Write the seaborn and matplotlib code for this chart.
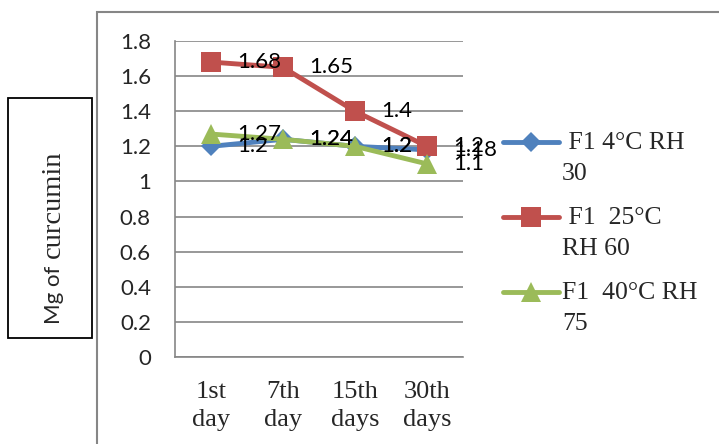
import matplotlib
matplotlib.use("Agg")
import matplotlib.pyplot as plt
import numpy as np
import pandas as pd
import seaborn as sns
from matplotlib.lines import Line2D
from matplotlib.patches import Rectangle

# ---- data -------------------------------------------------------------
days = ["1st\nday", "7th\nday", "15th\ndays", "30th\ndays"]
series_names = ["F1 4°C RH 30", "F1  25°C RH 60", "F1  40°C RH 75"]
legend_labels = [" F1 4°C RH\n30", " F1  25°C\nRH 60", "F1  40°C RH\n75"]
f1_4c = [1.2, 1.24, 1.2, 1.18]
f1_25c = [1.68, 1.65, 1.4, 1.2]
f1_40c = [1.27, 1.24, 1.2, 1.1]
y_ticks = [0, 0.2, 0.4, 0.6, 0.8, 1.0, 1.2, 1.4, 1.6, 1.8]
y_tick_labels = ["0", "0.2", "0.4", "0.6", "0.8", "1", "1.2", "1.4", "1.6", "1.8"]
y_label_parts = ["Mg of", "curcumin"]

# ---- style --------------------------------------------------------------
sns.set_style("white")
SANS = ["Lato", "DejaVu Sans"]
SERIF = ["Liberation Serif", "DejaVu Serif"]
plt.rcParams["font.family"] = SANS
GRID = "#868686"
colors = ["#4F81BD", "#C0504D", "#9BBB59"]
markers = ["D", "s", "^"]
msizes = [10.5, 14.5, 14]

W, H = 719, 444
fx = lambda px: px / W
fy = lambda py: 1 - py / H

fig = plt.figure(figsize=(W / 100, H / 100), dpi=100)

# outer chart frame
fig.patches.append(Rectangle((fx(97), -0.2), 1.5, fy(12) + 0.2,
                             transform=fig.transFigure, fill=False,
                             ec=GRID, lw=1.5, zorder=0))

ax = fig.add_axes([fx(175), fy(357), (463 - 175) / W, (357 - 41) / H])
ax.set_facecolor("none")

x = np.arange(len(days))
df = pd.DataFrame({
    "day": np.tile(x, 3),
    "value": f1_4c + f1_25c + f1_40c,
    "series": np.repeat(series_names, len(days)),
})

for name, c, m, ms in zip(series_names, colors, markers, msizes):
    sub = df[df["series"] == name]
    sns.lineplot(data=sub, x="day", y="value", color=c, marker=m,
                 markersize=ms, markeredgewidth=0, linewidth=3.5,
                 ax=ax, legend=False, zorder=3)

# data labels to the right of each point
for name in series_names:
    sub = df[df["series"] == name]
    for xi, v in zip(sub["day"], sub["value"]):
        ax.annotate(f"{v:g}", (xi, v), xytext=(19, 0),
                    textcoords="offset points", ha="left", va="center",
                    fontsize=16, family=SANS, color="black", zorder=5)

# axes
ax.set_xlim(-0.5, len(days) - 0.5)
ax.set_ylim(0, 1.8)
ax.set_yticks(y_ticks)
ax.set_yticklabels(y_tick_labels, fontsize=16, family=SANS)
ax.set_xticks(x)
ax.set_xticklabels(days, fontsize=19, family=SERIF, linespacing=1.35)
ax.set_xticks(np.arange(-0.5, len(days)), minor=True)
ax.tick_params(axis="x", which="major", length=0, pad=17)
ax.tick_params(axis="x", which="minor", length=5.2, width=1.2, color=GRID,
               direction="out")
ax.tick_params(axis="y", length=5.8, width=1.2, color=GRID, direction="out",
               pad=11.5)
ax.grid(axis="y", color=GRID, lw=1.2)
ax.grid(axis="x", visible=False)
for s in ["top", "right"]:
    ax.spines[s].set_visible(False)
for s in ["left", "bottom"]:
    ax.spines[s].set_color(GRID)
    ax.spines[s].set_linewidth(1.2)
ax.set_xlabel("")
ax.set_ylabel("")

# y-axis title in a box
fig.patches.append(Rectangle((fx(8), fy(338)), (92 - 8) / W, (338 - 98) / H,
                             transform=fig.transFigure, fill=False,
                             ec="black", lw=1.3))
fig.text(fx(60), fy(324), y_label_parts[0], rotation=90, rotation_mode="anchor",
         ha="left", va="baseline", fontsize=16, family=SANS)
fig.text(fx(60), fy(258), y_label_parts[1], rotation=90, rotation_mode="anchor",
         ha="left", va="baseline", fontsize=20.5, family=SERIF)

# legend
legend_y = [142, 217, 292]
for lab, c, m, ms, yy in zip(legend_labels, colors, markers, msizes, legend_y):
    fig.add_artist(Line2D([fx(503), fx(531), fx(559)], [fy(yy)] * 3,
                          transform=fig.transFigure, color=c, lw=3.5,
                          marker=m, markersize=ms, markeredgewidth=0,
                          markevery=[1], solid_capstyle="round"))
    for j, line in enumerate(lab.split("\n")):
        fig.text(fx(562), fy(yy + 7 + 31 * j), line, ha="left", va="baseline",
                 fontsize=18.5, family=SERIF)

fig.savefig("out.png", dpi=100)
